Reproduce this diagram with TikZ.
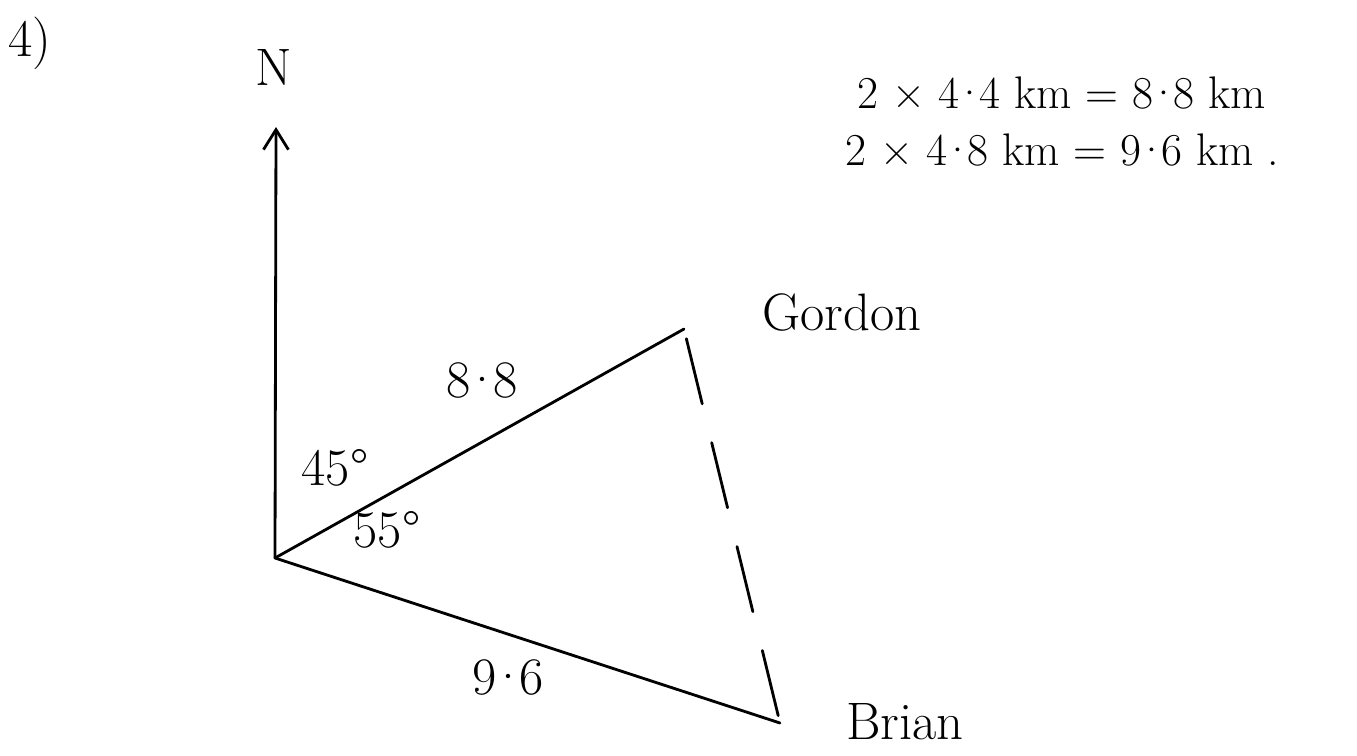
\documentclass[tikz,border=0pt]{standalone}
\usepackage{tikz}
\usetikzlibrary{arrows.meta, positioning, calc}

\newcommand{\mdot}{\kern-.14em·\kern-.14em}

\begin{document}
\begin{tikzpicture}[
    x=0.02cm, y=-0.02cm,
    pen/.style={line width=1.6pt, line cap=round},
    bearing/.style={pen, -{Straight Barb[length=4mm, width=5mm, line width=1.6pt]}},
    dashline/.style={pen, dash pattern=on 1.34cm off 0.8cm, dash phase=-0.2cm},
    label/.style={font=\fontsize{30}{34}\selectfont, inner sep=0pt},
    note/.style={font=\fontsize{26}{30}\selectfont, inner sep=0pt, anchor=west}
]
\useasboundingbox (0,0) rectangle (1357,755);

% punkte
\coordinate (O) at (275,558);
\coordinate (G) at (684,329);
\coordinate (B) at (780,723);
\coordinate (Ntip) at (276,127);

% beschriftungen
\node[label] (num) at (30,43) {4)};
\node[label] (north) at (274,67) {N};
\node[label] (gordon) at (842,312) {Gordon};
\node[label] (brian) at (905,722) {Brian};
\node[label] (dg) at (482,380) {8\mdot 8};
\node[label] (db) at (508,677) {9\mdot 6};
\node[label] (a45) at (335,468) {45°};
\node[label] (a55) at (387,530) {55°};
\node[note] (calc1) at (857,93) {2 × 4\mdot 4 km = 8\mdot 8 km};
\node[note] (calc2) at (845,150) {2 × 4\mdot 8 km = 9\mdot 6 km .};

% linien
\draw[bearing] (O) -- (Ntip);
\draw[pen] (O) -- (G);
\draw[pen] (O) -- (B);
\draw[dashline] (G) -- (B);

\end{tikzpicture}
\end{document}
